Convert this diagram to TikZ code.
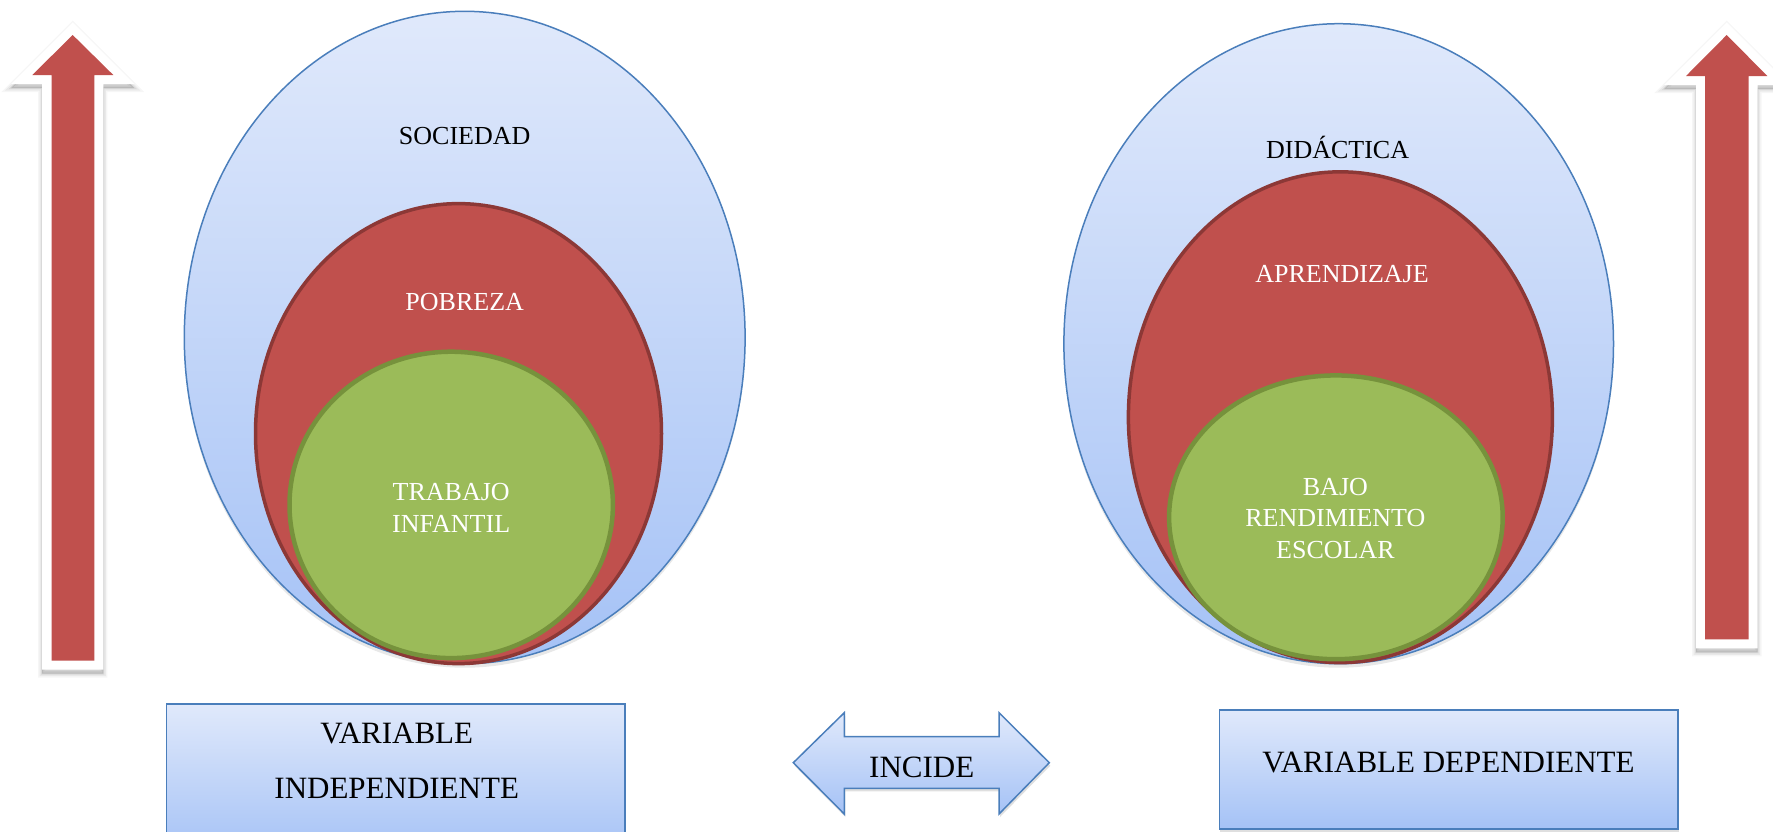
\documentclass[tikz,border=0pt]{standalone}
\usepackage{fontspec}
\setmainfont{Liberation Serif}
\usetikzlibrary{shapes.geometric,shadows}
\definecolor{bluetop}{HTML}{E0E9FB}
\definecolor{bluebot}{HTML}{A5C2F6}
\definecolor{blueline}{HTML}{4A7EBB}
\definecolor{redf}{HTML}{C0504D}
\definecolor{redl}{HTML}{8C3836}
\definecolor{greenf}{HTML}{9BBB59}
\definecolor{greenl}{HTML}{76923C}
\tikzset{
  outerell/.style={ellipse, draw=blueline, line width=1.5pt, top color=bluetop, bottom color=bluebot, inner sep=0pt,
     drop shadow={opacity=0.18, shadow xshift=0pt, shadow yshift=-4pt}},
  redell/.style={ellipse, draw=redl, fill=redf, line width=3.5pt, inner sep=0pt},
  greenell/.style={ellipse, draw=greenl, fill=greenf, line width=4.5pt, inner sep=0pt},
  bluebox/.style={rectangle, draw=blueline, line width=1.5pt, top color=bluetop, bottom color=bluebot, inner sep=0pt,
     drop shadow={opacity=0.25, shadow xshift=1pt, shadow yshift=-3pt}},
  blktxt/.style={text=black, align=center, inner sep=0pt},
  whttxt/.style={text=white, align=center, inner sep=0pt},
  shadowlayer/.style={draw=black, fill=black, line join=miter, opacity=#1},
  arrowout/.style={fill=white},
  arrowin/.style={fill=redf},
}
\begin{document}
\begin{tikzpicture}[x=1pt,y=-1pt]
\useasboundingbox (0,0) rectangle (1773,831);

% left vertical arrow: soft shadow, white outline, red arrow
\begin{scope}[yshift=-4pt]
\foreach \w/\o in {8/0.035,5/0.05,2/0.07}{
\path[shadowlayer=\o, line width=\w pt] (72.7,22.3) -- (134.4,84) -- (103.3,84) -- (103.3,669.7) -- (42.1,669.7) -- (42.1,84) -- (11,84) -- cycle;}
\end{scope}
\fill[arrowout] (72.7,22.3) -- (134.4,84) -- (103.3,84) -- (103.3,669.7) -- (42.1,669.7) -- (42.1,84) -- (11,84) -- cycle;
\fill[arrowin] (72.7,35) -- (113.3,75) -- (94.3,75) -- (94.3,660.7) -- (51.7,660.7) -- (51.7,75) -- (32.3,75) -- cycle;

% right vertical arrow
\begin{scope}[yshift=-4pt]
\foreach \w/\o in {8/0.035,5/0.05,2/0.07}{
\path[shadowlayer=\o, line width=\w pt] (1726.7,22.3) -- (1789.4,85) -- (1757.7,85) -- (1757.7,648.3) -- (1696,648.3) -- (1696,85) -- (1664,85) -- cycle;}
\end{scope}
\fill[arrowout] (1726.7,22.3) -- (1789.4,85) -- (1757.7,85) -- (1757.7,648.3) -- (1696,648.3) -- (1696,85) -- (1664,85) -- cycle;
\fill[arrowin] (1726.7,35) -- (1767.3,76) -- (1748.7,76) -- (1748.7,639.3) -- (1705,639.3) -- (1705,76) -- (1686,76) -- cycle;

% left ellipses
\node[outerell, minimum width=560.8pt, minimum height=652.4pt] (soc) at (464.7,337.5) {};
\node[redell, minimum width=406pt, minimum height=460pt] (pob) at (458.5,433.6) {};
\node[greenell, minimum width=323.4pt, minimum height=306.4pt] (tra) at (451.2,504.9) {};
\node[blktxt, font=\fontsize{26}{31}\selectfont] (socT) at (464.7,135.7) {SOCIEDAD};
\node[whttxt, font=\fontsize{26}{31}\selectfont] (pobT) at (464.7,301.9) {POBREZA};
\node[whttxt, font=\fontsize{26}{31.7}\selectfont] (traT) at (451.2,507.6) {TRABAJO\\INFANTIL};

% right ellipses
\node[outerell, minimum width=549.6pt, minimum height=640pt] (did) at (1338.7,343.7) {};
\node[redell, minimum width=424pt, minimum height=490.8pt] (apr) at (1340.4,417.2) {};
\node[greenell, minimum width=333.6pt, minimum height=283.8pt] (baj) at (1335.9,517.3) {};
\node[blktxt, font=\fontsize{26}{31}\selectfont] (didT) at (1337.6,147) {DIDÁCTICA};
\node[whttxt, font=\fontsize{26}{31}\selectfont] (aprT) at (1342,273.6) {APRENDIZAJE};
\node[whttxt, font=\fontsize{26}{31.7}\selectfont] (bajT) at (1335.4,518.5) {BAJO\\RENDIMIENTO\\ESCOLAR};

% bottom boxes
\node[bluebox, minimum width=458.3pt, minimum height=150pt] (vi) at (395.85,779) {};
\node[blktxt, font=\fontsize{31}{55}\selectfont] (viT) at (396.7,760.8) {VARIABLE\\INDEPENDIENTE};
\node[bluebox, minimum width=458.7pt, minimum height=119pt] (vd) at (1448.65,769.5) {};
\node[blktxt, font=\fontsize{31}{36}\selectfont] (vdT) at (1448.5,762.5) {VARIABLE DEPENDIENTE};

% incide double arrow
\path[draw=blueline, line width=1.5pt, top color=bluetop, bottom color=bluebot,
      drop shadow={opacity=0.25, shadow xshift=1pt, shadow yshift=-3pt}]
  (793.3,762.7) -- (844.3,712.7) -- (844.3,736.7) -- (999,736.7) -- (999,712.7) -- (1049.3,762.7)
  -- (999,814) -- (999,788.3) -- (844.3,788.3) -- (844.3,814) -- cycle;
\node[blktxt, font=\fontsize{31}{36}\selectfont] (incT) at (921.7,767.3) {INCIDE};
\end{tikzpicture}
\end{document}
